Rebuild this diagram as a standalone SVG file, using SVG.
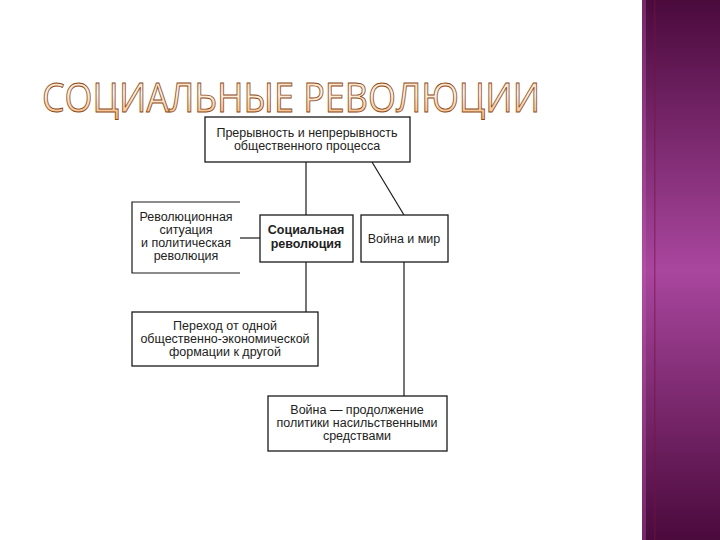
<svg xmlns="http://www.w3.org/2000/svg" width="720" height="540" viewBox="0 0 720 540">
<defs>
<linearGradient id="band" x1="0" y1="0" x2="0" y2="1">
<stop offset="0" stop-color="#4a0a3c"/>
<stop offset="0.5" stop-color="#a9469e"/>
<stop offset="1" stop-color="#4a0a3c"/>
</linearGradient>
<linearGradient id="title" x1="0" y1="0" x2="0" y2="1">
<stop offset="0" stop-color="#f8c898"/>
<stop offset="0.45" stop-color="#fff4e4"/>
<stop offset="1" stop-color="#f2a860"/>
</linearGradient>
<style>
.box{fill:#fff;stroke:#1a1a1a;stroke-width:1.3}
.ln{stroke:#1a1a1a;stroke-width:1.2;fill:none}
.t{font-family:"Liberation Sans",Arial,sans-serif;font-size:12.5px;fill:#222;text-anchor:middle}
.b{font-weight:bold}
</style>
</defs>
<rect width="720" height="540" fill="#fff"/>
<rect x="642" y="0" width="78" height="540" fill="url(#band)"/>
<rect x="642" y="0" width="4" height="540" fill="#c060b0" opacity="0.35"/>
<rect x="654" y="0" width="1.5" height="540" fill="#7a1040" opacity="0.5"/>
<text x="42" y="112" transform="translate(0,112) scale(1,1.12) translate(0,-112)" textLength="498" lengthAdjust="spacing" font-family="'Open Sans','DejaVu Sans',sans-serif" font-size="36" fill="url(#title)" stroke="#8a4a1a" stroke-width="0.8">СОЦИАЛЬНЫЕ РЕВОЛЮЦИИ</text>
<g id="connectors">
<line class="ln" x1="306" y1="162" x2="306" y2="215"/>
<line class="ln" x1="306" y1="262" x2="306" y2="312"/>
<line class="ln" x1="372" y1="162" x2="404" y2="215" stroke-width="0.9"/>
<line class="ln" x1="404" y1="262" x2="404" y2="396"/>
<line class="ln" x1="240" y1="238" x2="260" y2="238" stroke-width="0.9"/>
</g>
<g id="top">
<rect class="box" x="205" y="117" width="205" height="45"/>
<text class="t" x="307" y="137">Прерывность и непрерывность</text>
<text class="t" x="307" y="150">общественного процесса</text>
</g>
<g id="left">
<path class="ln" d="M240,202 H132 V273 H240" fill="#fff"/>
<text class="t" x="186" y="221">Революционная</text>
<text class="t" x="186" y="234">ситуация</text>
<text class="t" x="186" y="247">и политическая</text>
<text class="t" x="186" y="260">революция</text>
</g>
<g id="center">
<rect class="box" x="260" y="215" width="93" height="47"/>
<text class="t b" x="306" y="234">Социальная</text>
<text class="t b" x="306" y="248">революция</text>
</g>
<g id="war-peace">
<rect class="box" x="361" y="215" width="87" height="47"/>
<text class="t" x="404" y="243">Война и мир</text>
</g>
<g id="transition">
<rect class="box" x="132" y="312" width="186" height="54"/>
<text class="t" x="225" y="330">Переход от одной</text>
<text class="t" x="225" y="343">общественно-экономической</text>
<text class="t" x="225" y="356">формации к другой</text>
</g>
<g id="war">
<rect class="box" x="268" y="396" width="179" height="55"/>
<text class="t" x="357" y="414">Война — продолжение</text>
<text class="t" x="357" y="427">политики насильственными</text>
<text class="t" x="357" y="440">средствами</text>
</g>
</svg>
